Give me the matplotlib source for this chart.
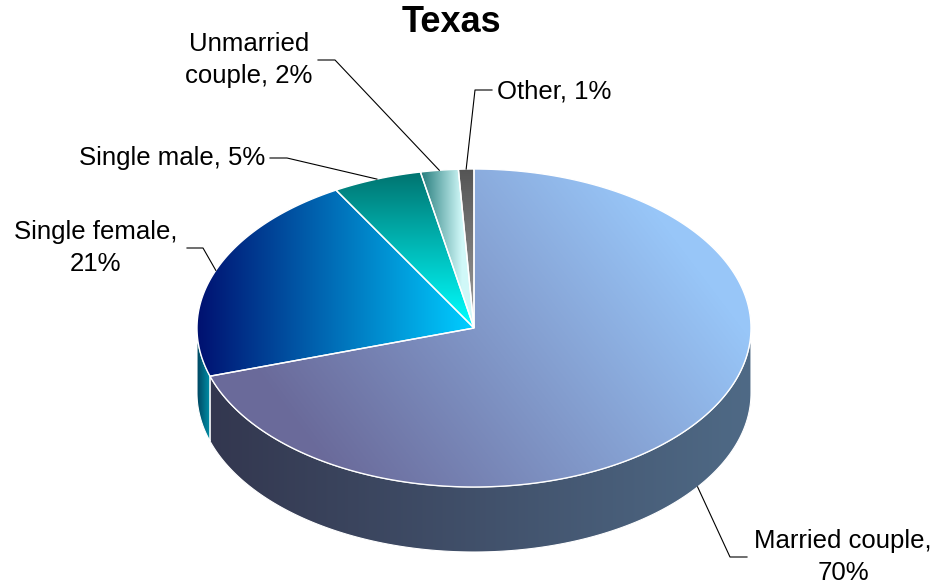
import numpy as np
import matplotlib
matplotlib.use("Agg")
import matplotlib.pyplot as plt
from matplotlib.patches import Polygon
from matplotlib.colors import to_rgb

# Household types, Texas
categories = ["Married couple", "Single female", "Single male", "Unmarried couple", "Other"]
values = [70.1, 21.6, 5.2, 2.2, 0.9]
pct_labels = [70, 21, 5, 2, 1]
label_text = ["Married couple,\n70%", "Single female,\n21%", "Single male, 5%",
              "Unmarried\ncouple, 2%", "Other, 1%"]

# pie geometry in pixels
W, H = 949, 587
cx, cy, rx, ry, depth = 474, 328, 277, 159, 65

# gradients: (colour start, colour end, point start, point end)
top_grads = [
    ("#98c6f8", "#6a6a9a", (660, 220), (330, 470)),
    ("#001070", "#00ccff", (197, 0), (470, 0)),
    ("#007470", "#00ffff", (0, 172), (0, 325)),
    ("#2a8080", "#d0f8f8", (422, 0), (462, 0)),
    ("#555555", "#a0a0a0", (0, 170), (0, 330)),
]
wall_grads = [
    ("#33374f", "#4f6a86", (210, 0), (751, 0)),
    ("#004560", "#0090a8", (197, 0), (210, 0)),
]

yy, xx = np.mgrid[0:H, 0:W] + 0.5


def grad(c0, c1, p0, p1):
    d = np.array(p1, float) - np.array(p0, float)
    t = ((xx - p0[0]) * d[0] + (yy - p0[1]) * d[1]) / (d @ d)
    t = np.clip(t, 0, 1)[..., None]
    return (1 - t) * np.array(to_rgb(c0)) + t * np.array(to_rgb(c1))


def arc(a0, a1, off=0):
    th = np.radians(np.linspace(a0, a1, 200))
    return np.column_stack([cx + rx * np.sin(th), cy - ry * np.cos(th) + off])


def fill(poly, img, z):
    patch = Polygon(poly, closed=True, facecolor="none", edgecolor="none")
    ax.add_patch(patch)
    im = ax.imshow(img, extent=(0, W, H, 0), zorder=z, interpolation="bilinear", aspect="auto")
    im.set_clip_path(patch)


fig = plt.figure(figsize=(9.49, 5.87), dpi=100)
ax = fig.add_axes([0, 0, 1, 1])

angles = np.concatenate([[0], np.cumsum(values) / np.sum(values) * 360])

# side walls (front half only)
for i in range(len(values)):
    lo, hi = max(angles[i], 90), min(angles[i + 1], 270)
    if hi <= lo:
        continue
    poly = np.vstack([arc(lo, hi), arc(hi, lo, depth)])
    g = wall_grads[min(i, len(wall_grads) - 1)]
    fill(poly, grad(*g), 1)
    ax.add_patch(Polygon(poly, closed=True, fc="none", ec="white", lw=0.8, zorder=2))

# top faces
for i in range(len(values)):
    poly = np.vstack([[cx, cy], arc(angles[i], angles[i + 1])])
    fill(poly, grad(*top_grads[i]), 3)
    ax.add_patch(Polygon(poly, closed=True, fc="none", ec="white", lw=1.0, zorder=4))

# labels and leader lines
font = "Liberation Sans"
text_pos = [(843, 557, "center"), (96, 248, "center"), (265, 158, "right"),
            (249, 60, "center"), (497, 91, "left")]
elbows = [((730, 557), (747, 557)), ((203, 248), (187, 248)), ((287, 158), (270, 158)),
          ((335, 60), (318, 60)), ((475, 90), (492, 90))]

for i in range(len(values)):
    mid = np.radians((angles[i] + angles[i + 1]) / 2)
    ax_x = cx + rx * np.sin(mid)
    ax_y = cy - ry * np.cos(mid)
    if np.cos(mid) < 0:
        ax_y += depth
    (ex, ey), (fx, fy) = elbows[i]
    ax.plot([ax_x, ex, fx], [ax_y, ey, fy], color="black", lw=0.8, zorder=5)
    tx, ty, ha = text_pos[i]
    ax.text(tx, ty, label_text[i], ha=ha, va="center", fontsize=18.5, family=font,
            linespacing=1.4, zorder=6)

ax.text(451, 22, "Texas", ha="center", va="center", fontsize=26, fontweight="bold", family=font)

ax.set_xlim(0, W)
ax.set_ylim(H, 0)
ax.axis("off")
fig.savefig("out.png", dpi=100)
